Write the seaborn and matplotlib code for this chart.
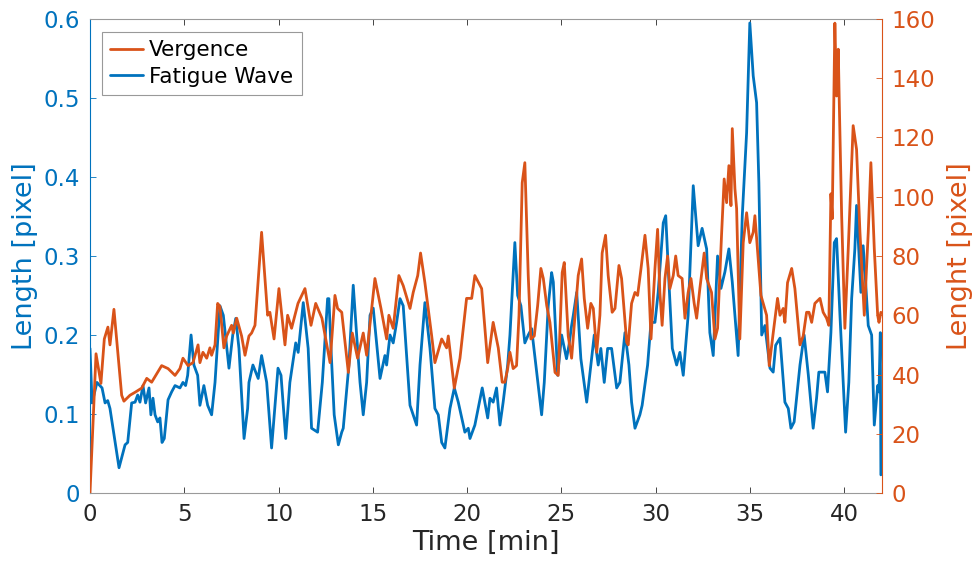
import numpy as np
import pandas as pd
import matplotlib
matplotlib.use("Agg")
import matplotlib.pyplot as plt
import seaborn as sns

# ---------------- data ----------------
vergence_time = [0.00, 0.32, 0.58, 0.76, 0.95, 1.06, 1.27, 1.68, 1.80, 2.12, 2.39, 2.74, 3.01, 3.27,
                 3.80, 4.14, 4.51, 4.77, 4.93, 5.20, 5.46, 5.73, 5.83, 5.99, 6.19, 6.36, 6.45, 6.63,
                 6.77, 6.89, 7.10, 7.25, 7.51, 7.60, 7.78, 8.04, 8.22, 8.43, 8.57, 8.75, 9.10, 9.24,
                 9.42, 9.54, 9.76, 10.02, 10.34, 10.48, 10.69, 11.03, 11.40, 11.72, 11.97, 12.30,
                 12.73, 12.99, 13.13, 13.35, 13.70, 13.91, 14.19, 14.49, 14.67, 15.11, 15.43, 15.73,
                 15.85, 16.08, 16.38, 16.61, 16.97, 17.14, 17.38, 17.53, 17.76, 18.12, 18.29, 18.65,
                 18.91, 19.00, 19.32, 19.62, 19.97, 20.24, 20.41, 20.77, 21.09, 21.38, 21.65, 21.86,
                 22.00, 22.15, 22.27, 22.44, 22.62, 22.75, 22.92, 23.06, 23.24, 23.38, 23.56, 23.74,
                 23.91, 24.04, 24.22, 24.39, 24.66, 24.83, 25.04, 25.15, 25.36, 25.54, 25.72, 25.89,
                 26.07, 26.21, 26.39, 26.56, 26.69, 26.87, 27.04, 27.16, 27.34, 27.48, 27.69, 27.84,
                 28.05, 28.19, 28.46, 28.54, 28.72, 28.90, 29.04, 29.22, 29.43, 29.60, 29.75, 29.96,
                 30.10, 30.22, 30.34, 30.49, 30.63, 30.75, 30.93, 31.06, 31.19, 31.40, 31.55, 31.72,
                 31.87, 32.04, 32.17, 32.34, 32.57, 32.70, 32.96, 33.14, 33.28, 33.49, 33.63, 33.76,
                 33.88, 33.99, 34.06, 34.20, 34.29, 34.46, 34.64, 34.82, 34.99, 35.17, 35.26, 35.35,
                 35.58, 35.88, 36.02, 36.23, 36.46, 36.59, 36.76, 36.85, 36.99, 37.21, 37.38, 37.65,
                 37.82, 38.00, 38.13, 38.27, 38.44, 38.71, 38.88, 39.06, 39.18, 39.29, 39.36, 39.50,
                 39.59, 39.68, 39.73, 39.86, 40.03, 40.21, 40.47, 40.65, 40.83, 41.06, 41.27, 41.41,
                 41.59, 41.77, 41.84, 41.94]
vergence_px = [0, 47, 37, 52, 56, 50, 62, 33, 31, 33, 34, 35.4, 38.7, 37.4,
               43, 42, 39.7, 42, 45.5, 43, 44, 50, 44, 47.5, 45.5, 49, 46.5, 50,
               64, 63, 49, 53, 56.6, 54, 59, 53, 46.5, 53, 54, 56.6, 88, 75.8,
               60, 61, 52, 69, 50, 60, 55.6, 64, 69, 56.6, 64, 59,
               44, 66.7, 62.3, 61, 40.7, 54, 45.5, 54, 46.5, 72.4, 62.3, 52,
               60, 55.6, 73.4, 70, 62.3, 67.7, 73.4, 81, 71, 53, 44, 52,
               49, 53, 35.4, 45.5, 65.7, 65.7, 73.4, 69, 44, 57.6, 49, 37.4,
               37.4, 42, 47.5, 42, 43, 60, 104.7, 111.5, 73.4, 52, 53, 63.3,
               75.8, 72.4, 63.3, 57.6, 40.7, 39.7, 74.4, 77.8, 53, 45.5, 60, 73.4,
               79, 65.7, 55.6, 64, 62.3, 47.5, 60, 81, 87, 73.4, 61, 62.3,
               76.8, 72.4, 50.9, 50, 64, 67.7, 66.7, 75.8, 87, 75.8, 52, 75.8,
               89, 67.7, 56.6, 72.4, 80, 69, 73.4, 80, 73.4, 72.4, 59, 67.7,
               72.4, 64, 59, 69, 81, 72.4, 67.7, 52, 55.6, 87, 106, 98,
               110.5, 97, 123, 102.7, 96, 52, 84.5, 94.6, 84.5, 88, 93.6, 86,
               66.7, 60, 43, 54, 65.7, 60, 62.3, 57.6, 71, 75.8, 69, 50,
               53, 61, 61, 57.6, 64, 65.7, 61, 59, 56.6, 101, 92.6, 158.6,
               134, 149.8, 133, 93.6, 55.6, 82.5, 124, 116, 88, 60, 88, 111.5,
               82.5, 60, 57.6, 61]

fatigue_time = [0.00, 0.11, 0.37, 0.64, 0.80, 0.94, 1.06, 1.54, 1.86, 2.00, 2.21, 2.39, 2.53, 2.65,
                2.81, 2.95, 3.13, 3.23, 3.34, 3.45, 3.59, 3.71, 3.82, 3.94, 4.14, 4.33, 4.51, 4.77,
                4.93, 5.07, 5.18, 5.36, 5.51, 5.71, 5.83, 6.04, 6.24, 6.45, 6.63, 6.89, 7.07, 7.37,
                7.57, 7.73, 7.90, 8.17, 8.36, 8.43, 8.64, 8.92, 9.10, 9.37, 9.63, 9.97, 10.13, 10.38,
                10.60, 10.91, 11.04, 11.31, 11.57, 11.75, 12.07, 12.32, 12.60, 12.67, 12.78, 12.95,
                13.17, 13.35, 13.43, 13.73, 13.96, 14.19, 14.32, 14.49, 14.67, 14.85, 15.02, 15.38,
                15.64, 15.73, 15.91, 16.08, 16.26, 16.44, 16.61, 16.97, 17.32, 17.50, 17.76, 18.03,
                18.29, 18.47, 18.65, 18.82, 19.09, 19.32, 19.53, 19.88, 20.06, 20.15, 20.41, 20.80,
                21.09, 21.21, 21.38, 21.56, 21.74, 21.91, 22.15, 22.27, 22.53, 22.68, 22.85, 23.06,
                23.24, 23.42, 23.95, 24.09, 24.30, 24.48, 24.57, 24.80, 25.01, 25.27, 25.40, 25.54,
                25.63, 25.81, 26.03, 26.34, 26.56, 26.74, 26.95, 27.09, 27.27, 27.45, 27.66, 27.93,
                28.10, 28.37, 28.58, 28.72, 28.90, 29.16, 29.28, 29.57, 29.75, 29.96, 30.13, 30.40,
                30.53, 30.70, 30.88, 31.11, 31.28, 31.46, 31.72, 31.99, 32.25, 32.46, 32.70, 32.87,
                33.05, 33.28, 33.46, 33.67, 33.88, 34.06, 34.37, 34.59, 34.82, 34.99, 35.17, 35.35,
                35.47, 35.62, 35.79, 36.06, 36.23, 36.36, 36.59, 36.85, 37.03, 37.17, 37.34, 37.65,
                37.87, 38.09, 38.35, 38.53, 38.65, 38.97, 39.11, 39.29, 39.47, 39.59, 39.77, 40.07,
                40.24, 40.39, 40.56, 40.65, 40.88, 41.00, 41.13, 41.27, 41.45, 41.59, 41.77, 41.84,
                41.91, 41.94]
fatigue_len = [0.183, 0.114, 0.140, 0.133, 0.114, 0.117, 0.107, 0.032, 0.061, 0.064, 0.114, 0.115, 0.124, 0.115,
               0.136, 0.114, 0.133, 0.099, 0.120, 0.099, 0.090, 0.095, 0.064, 0.069, 0.118, 0.128, 0.136, 0.133,
               0.140, 0.136, 0.149, 0.200, 0.162, 0.149, 0.111, 0.136, 0.111, 0.099, 0.140, 0.237, 0.225, 0.158,
               0.200, 0.221, 0.183, 0.069, 0.107, 0.140, 0.162, 0.145, 0.174, 0.140, 0.057, 0.158, 0.149, 0.069,
               0.140, 0.190, 0.178, 0.241, 0.183, 0.082, 0.077, 0.140, 0.246, 0.246, 0.183, 0.099,
               0.061, 0.077, 0.082, 0.162, 0.263, 0.183, 0.140, 0.099, 0.140, 0.225, 0.234, 0.145,
               0.174, 0.162, 0.200, 0.190, 0.216, 0.246, 0.237, 0.111, 0.086, 0.162, 0.241, 0.183,
               0.107, 0.099, 0.064, 0.057, 0.107, 0.133, 0.115, 0.077, 0.082, 0.069, 0.086, 0.133,
               0.095, 0.120, 0.115, 0.133, 0.086, 0.115, 0.162, 0.200, 0.317, 0.250, 0.237, 0.190,
               0.200, 0.208, 0.099, 0.140, 0.237, 0.279, 0.267, 0.149, 0.200, 0.170, 0.187, 0.212,
               0.225, 0.254, 0.170, 0.115, 0.162, 0.200, 0.162, 0.183, 0.140, 0.183, 0.183, 0.133,
               0.140, 0.203, 0.162, 0.115, 0.082, 0.099, 0.111, 0.162, 0.216, 0.216, 0.254, 0.342,
               0.351, 0.267, 0.183, 0.162, 0.178, 0.149, 0.225, 0.389, 0.313, 0.335, 0.309, 0.203,
               0.174, 0.300, 0.259, 0.280, 0.309, 0.267, 0.174, 0.351, 0.456, 0.595, 0.528, 0.494,
               0.393, 0.200, 0.212, 0.158, 0.153, 0.187, 0.196, 0.115, 0.107, 0.082, 0.090, 0.162,
               0.200, 0.150, 0.082, 0.120, 0.153, 0.153, 0.128, 0.203, 0.317, 0.322, 0.225, 0.077,
               0.140, 0.246, 0.309, 0.364, 0.254, 0.313, 0.267, 0.212, 0.200, 0.086, 0.136, 0.128,
               0.203, 0.023]

x_ticks = [0, 5, 10, 15, 20, 25, 30, 35, 40]
left_ticks = [0, 0.1, 0.2, 0.3, 0.4, 0.5, 0.6]
left_tick_labels = ["0", "0.1", "0.2", "0.3", "0.4", "0.5", "0.6"]
right_ticks = [0, 20, 40, 60, 80, 100, 120, 140, 160]

# ---------------- styling ----------------
BLUE = "#0072BD"
ORANGE = "#D95319"
DARK = "#262626"

sns.set_theme(style="white")
plt.rcParams["font.family"] = ["DejaVu Sans"]

df_v = pd.DataFrame({"t": vergence_time, "v": vergence_px})
df_f = pd.DataFrame({"t": fatigue_time, "v": fatigue_len})

fig = plt.figure(figsize=(9.76, 5.65), dpi=100)
ax = fig.add_axes([0.0922, 0.1274, 0.8115, 0.8390])
ax2 = ax.twinx()

sns.lineplot(data=df_f, x="t", y="v", ax=ax, color=BLUE, linewidth=2.0,
             estimator=None, sort=False, legend=False,
             solid_joinstyle="round", solid_capstyle="round")
sns.lineplot(data=df_v, x="t", y="v", ax=ax2, color=ORANGE, linewidth=2.0,
             estimator=None, sort=False, legend=False,
             solid_joinstyle="round", solid_capstyle="round")

ax.set_xlim(0, 42)
ax.set_ylim(0, 0.6)
ax2.set_ylim(0, 160)
ax.set_xticks(x_ticks)
ax.set_yticks(left_ticks)
ax.set_yticklabels(left_tick_labels)
ax2.set_yticks(right_ticks)

ax.tick_params(axis="x", direction="in", top=True, bottom=True, length=4, width=0.6,
               color=DARK, labelcolor=DARK, labelsize=16.5, pad=7)
ax.tick_params(axis="y", direction="in", left=True, right=False, length=4, width=0.6,
               color=BLUE, labelcolor=BLUE, labelsize=16.5, pad=7)
ax2.tick_params(axis="y", direction="in", left=False, right=True, length=4, width=0.6,
                color=ORANGE, labelcolor=ORANGE, labelsize=16.5, pad=7)

for s in ["top", "bottom"]:
    ax.spines[s].set_color("#9a9a9a")
    ax.spines[s].set_linewidth(0.8)
ax.spines["left"].set_color(BLUE)
ax.spines["left"].set_linewidth(0.8)
ax.spines["right"].set_visible(False)
for s in ["top", "bottom", "left"]:
    ax2.spines[s].set_visible(False)
ax2.spines["right"].set_color(ORANGE)
ax2.spines["right"].set_linewidth(0.8)

ax.set_xlabel("Time [min]", fontsize=19.5, color=DARK, labelpad=3)
ax.set_ylabel("Length [pixel]", fontsize=19.5, color=BLUE, labelpad=4)
ax2.set_ylabel("Lenght [pixel]", fontsize=19.5, color=ORANGE, labelpad=8)

leg = ax2.legend([ax2.lines[0], ax.lines[0]], ["Vergence", "Fatigue Wave"],
                 loc="upper left", bbox_to_anchor=(0.015, 0.973), borderaxespad=0,
                 fontsize=15.5, frameon=True, fancybox=False, framealpha=1,
                 edgecolor="#999999", handlelength=1.5, handletextpad=0.3,
                 labelspacing=0.3, borderpad=0.4)
leg.get_frame().set_linewidth(0.8)
for t in leg.get_texts():
    t.set_color("black")

fig.savefig("out.png", dpi=100)
